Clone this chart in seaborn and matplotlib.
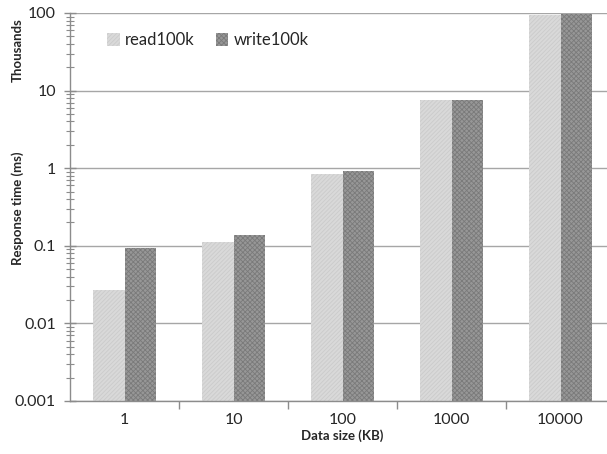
import matplotlib
matplotlib.use("Agg")
import matplotlib.pyplot as plt
import pandas as pd
import seaborn as sns
from matplotlib.patches import Patch
from matplotlib.ticker import FixedLocator, LogLocator, NullFormatter

# values in thousands of ms
SIZES = ["1", "10", "100", "1000", "10000"]
READ = [0.027, 0.112, 0.84, 7.6, 94]
WRITE = [0.093, 0.138, 0.92, 7.6, 98]
SERIES = ["read100k", "write100k"]

FACE = {"read100k": "#d9d9d9", "write100k": "#979797"}
HATCH_COL = {"read100k": "#cbcbcb", "write100k": "#7a7a7a"}
HATCH = {"read100k": "////////", "write100k": "xxxxxxx"}

df = pd.DataFrame({
    "size": SIZES * 2,
    "time": READ + WRITE,
    "series": [SERIES[0]] * len(SIZES) + [SERIES[1]] * len(SIZES),
})

sns.set_theme(style="white")
plt.rcParams["font.family"] = ["Lato", "DejaVu Sans"]
plt.rcParams["hatch.linewidth"] = 0.6

fig = plt.figure(figsize=(6.07, 4.54), dpi=100)
ax = fig.add_axes([70 / 607, 53 / 454, 545 / 607, 388 / 454])

sns.barplot(data=df, x="size", y="time", hue="series", order=SIZES,
            hue_order=SERIES, width=0.57, palette=FACE, legend=False,
            linewidth=0, ax=ax)

ax.set_yscale("log")
ax.set_ylim(0.001, 100)
ax.set_xlim(-0.5, len(SIZES) - 0.5)

for cont, name in zip(ax.containers, SERIES):
    for bar in cont:
        bar.set_facecolor(FACE[name])
        bar.set_edgecolor(HATCH_COL[name])
        bar.set_hatch(HATCH[name])
        bar.set_linewidth(0)

ax.set_axisbelow(True)
ax.yaxis.grid(True, which="major", color="#a6a6a6", linewidth=1.0)
ax.yaxis.set_major_locator(FixedLocator([0.001, 0.01, 0.1, 1, 10, 100]))
ax.set_yticklabels(["0.001", "0.01", "0.1", "1", "10", "100"])
ax.yaxis.set_minor_locator(LogLocator(base=10, subs=range(2, 10)))
ax.yaxis.set_minor_formatter(NullFormatter())
ax.tick_params(axis="y", which="major", direction="inout", length=8,
               width=1, color="#8c8c8c", labelsize=11.5, pad=6, left=True)
ax.tick_params(axis="y", which="minor", direction="inout", length=6,
               width=0.8, color="#8c8c8c", left=True)

ax.xaxis.set_minor_locator(FixedLocator([i + 0.5 for i in range(len(SIZES))]))
ax.tick_params(axis="x", which="major", length=0, labelsize=11.5, pad=9)
ax.tick_params(axis="x", which="minor", direction="out", length=6,
               width=1, color="#8c8c8c", bottom=True)

for side in ["top", "right"]:
    ax.spines[side].set_visible(False)
for side in ["left", "bottom"]:
    ax.spines[side].set_color("#8c8c8c")
    ax.spines[side].set_linewidth(1)

ax.set_xlabel("Data size (KB)", fontsize=9.5, fontweight="bold", labelpad=1)
ax.set_ylabel("")
fig.text(18 / 607, 1 - 208 / 454, "Response time (ms)", rotation=90,
         fontsize=9.5, fontweight="bold", ha="center", va="center")
fig.text(18 / 607, 1 - 50 / 454, "Thousands", rotation=90, fontsize=9.5,
         fontweight="bold", ha="center", va="center")

handles = [Patch(facecolor=FACE[s], edgecolor=HATCH_COL[s], hatch=HATCH[s],
                 linewidth=0) for s in SERIES]
ax.legend(handles, SERIES, loc="upper left", bbox_to_anchor=(0.068, 0.95),
          ncol=2, frameon=False, fontsize=12, handlelength=0.75,
          handleheight=0.75, handletextpad=0.3, columnspacing=1.3,
          borderpad=0, borderaxespad=0)

fig.savefig("out.png", dpi=100)
